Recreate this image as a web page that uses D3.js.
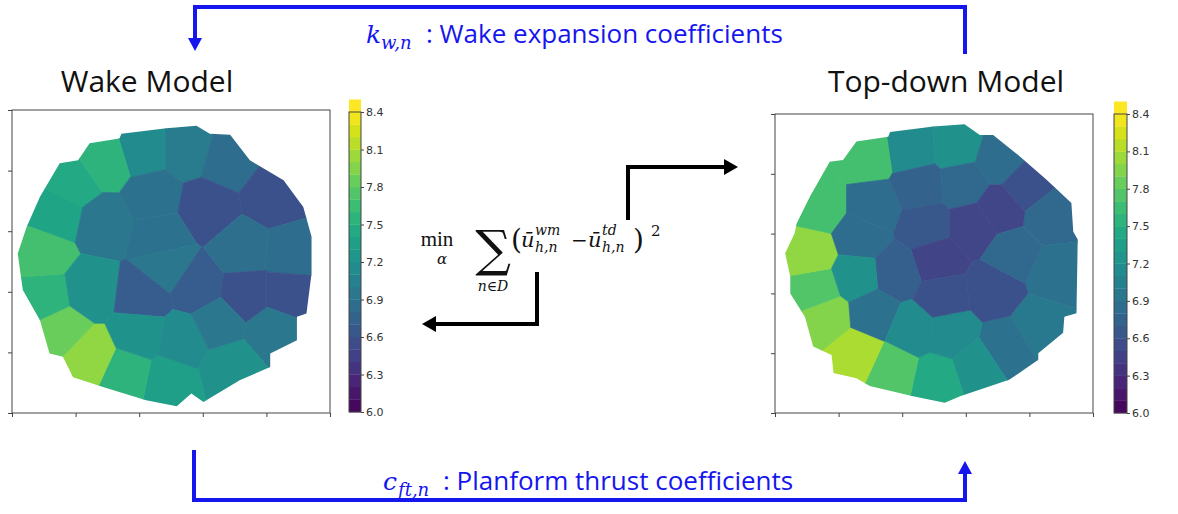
<!DOCTYPE html>
<html lang="en">
<head>
<meta charset="UTF-8" />
<title>Wake Model / Top-down Model</title>
<script src="https://cdn.jsdelivr.net/npm/d3@7"></script>
<style>
  body { margin: 0; background: #fff; }
  svg { display: block; }
  .title { font-family: "Open Sans", sans-serif; font-size: 30px; fill: #111; }
  .blue { font-family: "Open Sans", sans-serif; font-size: 26px; fill: #1515ee; }
  .serif { font-family: "DejaVu Serif", serif; fill: #111; }
</style>
</head>
<body>
<div id="chart"></div>
<script>
// cells: [x, y, hub-height velocity]
var wakeCells = [
  [2.06, 4.34, 7.15], [2.77, 4.34, 7.0], [3.37, 4.17, 6.85], [4.11, 3.57, 6.6],
  [4.37, 2.63, 6.85], [4.32, 1.97, 6.6], [4.11, 1.37, 6.95], [3.43, 0.76, 7.2],
  [2.46, 0.51, 7.35], [1.80, 0.65, 7.55], [1.22, 0.93, 8.0], [0.78, 1.37, 7.85],
  [0.54, 1.92, 7.55], [0.49, 2.63, 7.68], [0.72, 3.29, 7.4], [0.96, 3.79, 7.45],
  [1.46, 4.15, 7.55], [1.43, 3.13, 6.95], [2.22, 3.57, 6.9], [3.06, 3.40, 6.6],
  [2.32, 2.91, 6.9], [2.43, 2.41, 6.95], [1.22, 2.03, 7.2], [2.06, 1.92, 6.7],
  [2.90, 2.08, 6.7], [3.64, 2.69, 6.87], [3.69, 1.97, 6.6], [2.01, 1.31, 7.22],
  [2.69, 1.20, 7.15], [3.22, 1.48, 6.95]
];
var wakeOutline = [
  [1.72, 4.61], [2.43, 4.70], [2.90, 4.74], [3.11, 4.61], [3.43, 4.59], [3.74, 4.17],
  [4.27, 3.84], [4.58, 3.40], [4.71, 2.91], [4.71, 2.30], [4.63, 1.64], [4.48, 1.59],
  [4.48, 1.20], [4.06, 0.98], [4.06, 0.76], [3.58, 0.54], [3.01, 0.18], [2.82, 0.32],
  [2.59, 0.11], [2.11, 0.21], [1.43, 0.43], [0.96, 0.59], [0.80, 0.93], [0.59, 0.98],
  [0.44, 1.53], [0.17, 2.03], [0.09, 2.63], [0.23, 3.07], [0.44, 3.57], [0.75, 4.12],
  [1.04, 4.17], [1.22, 4.45], [1.69, 4.53]
];
var tdCells = [
  [2.15, 4.40, 7.15], [2.85, 4.45, 7.2], [3.53, 4.23, 6.85], [3.95, 3.79, 6.6],
  [4.32, 3.29, 6.8], [4.42, 2.34, 6.9], [4.16, 1.45, 6.97], [3.64, 1.11, 6.9],
  [3.17, 0.78, 7.2], [2.54, 0.56, 7.45], [1.86, 0.72, 7.75], [1.28, 1.00, 8.1],
  [0.81, 1.61, 7.95], [0.65, 2.06, 7.75], [0.55, 2.67, 8.0], [0.71, 3.45, 7.68],
  [1.44, 4.29, 7.68], [1.54, 3.45, 6.85], [1.34, 2.95, 6.85], [2.28, 3.79, 6.75],
  [2.96, 3.84, 6.8], [2.38, 3.12, 6.65], [3.12, 3.12, 6.5], [3.53, 3.40, 6.5],
  [2.54, 2.56, 6.48], [1.91, 2.34, 6.72], [1.28, 2.28, 7.2], [1.54, 1.67, 6.9],
  [2.17, 1.39, 7.15], [2.75, 1.34, 7.15], [2.64, 1.95, 6.6], [3.43, 2.06, 6.6],
  [3.74, 2.67, 6.8]
];
var tdOutline = [
  [1.81, 4.70], [2.49, 4.79], [2.98, 4.83], [3.22, 4.65], [3.43, 4.65], [3.85, 4.29],
  [4.27, 3.90], [4.66, 3.51], [4.69, 3.03], [4.76, 2.90], [4.74, 1.67], [4.55, 1.61],
  [4.53, 1.34], [4.14, 1.00], [4.14, 0.89], [3.69, 0.56], [3.53, 0.50], [2.91, 0.28],
  [2.67, 0.17], [2.17, 0.28], [1.49, 0.45], [1.28, 0.58], [0.92, 0.67], [0.89, 0.97],
  [0.60, 1.11], [0.47, 1.61], [0.24, 2.00], [0.24, 2.28], [0.16, 2.67], [0.31, 3.01],
  [0.34, 3.17], [0.55, 3.62], [0.86, 4.20], [1.07, 4.23], [1.28, 4.54], [1.78, 4.62]
];
var cbarTicks = [6.0, 6.3, 6.6, 6.9, 7.2, 7.5, 7.8, 8.1, 8.4];
var cbarLevels = d3.range(6.0, 8.4, 0.1);

var W = 1178, H = 514;
var svg = d3.select("#chart").append("svg").attr("width", W).attr("height", H);
var color = d3.scaleSequential(d3.interpolateViridis).domain([6.0, 8.4]);

function drawMap(id, cells, outline, box, cb) {
  var g = svg.append("g");
  var x = d3.scaleLinear().domain([0, 5]).range([box.x0, box.x1]);
  var y = d3.scaleLinear().domain([0, 5]).range([box.y1, box.y0]);

  svg.append("clipPath").attr("id", id + "-clip")
    .append("path")
    .attr("d", d3.line().x(d => x(d[0])).y(d => y(d[1])).curve(d3.curveLinearClosed)(outline));

  var vor = d3.Delaunay.from(cells, d => x(d[0]), d => y(d[1]))
    .voronoi([box.x0, box.y0, box.x1, box.y1]);

  g.append("g").attr("clip-path", "url(#" + id + "-clip)")
    .selectAll("path")
    .data(cells)
    .join("path")
    .attr("d", (d, i) => vor.renderCell(i))
    .attr("fill", d => color(d[2]))
    .attr("stroke", d => color(d[2]))
    .attr("stroke-width", 0.7);

  g.append("rect")
    .attr("x", box.x0).attr("y", box.y0)
    .attr("width", box.x1 - box.x0).attr("height", box.y1 - box.y0)
    .attr("fill", "none").attr("stroke", "#444").attr("stroke-width", 1);

  var ax = g.append("g").attr("transform", "translate(0," + box.y1 + ")")
    .call(d3.axisBottom(x).ticks(5).tickSize(4).tickFormat(""));
  var ay = g.append("g").attr("transform", "translate(" + box.x0 + ",0)")
    .call(d3.axisLeft(y).ticks(5).tickSize(4).tickFormat(""));
  [ax, ay].forEach(a => {
    a.select(".domain").remove();
    a.selectAll("line").attr("stroke", "#444");
  });

  // colour bar
  var c = d3.scaleLinear().domain([6.0, 8.4]).range([cb.y1, cb.y0]);
  var bar = g.append("g");
  bar.selectAll("rect")
    .data(cbarLevels)
    .join("rect")
    .attr("x", cb.x0)
    .attr("y", d => c(d + 0.1))
    .attr("width", cb.x1 - cb.x0)
    .attr("height", d => c(d) - c(d + 0.1) + 0.3)
    .attr("fill", d => color(d + 0.05));
  bar.append("rect")
    .attr("x", cb.x0).attr("y", cb.y0)
    .attr("width", cb.x1 - cb.x0).attr("height", cb.y1 - cb.y0)
    .attr("fill", "none").attr("stroke", "#444");
  var cax = bar.append("g").attr("transform", "translate(" + cb.x1 + ",0)")
    .call(d3.axisRight(c).tickValues(cbarTicks).tickSize(3).tickPadding(2).tickFormat(d3.format(".1f")));
  cax.select(".domain").remove();
  cax.selectAll("line").attr("stroke", "#444");
  cax.selectAll("text").attr("font-family", "DejaVu Sans").attr("font-size", 11).attr("fill", "#333");
}

drawMap("wm", wakeCells, wakeOutline,
  {x0: 12, x1: 330, y0: 110, y1: 413},
  {x0: 349, x1: 361, y0: 112, y1: 412});
drawMap("td", tdCells, tdOutline,
  {x0: 775, x1: 1093, y0: 114, y1: 413},
  {x0: 1114, x1: 1127, y0: 114, y1: 413});

// titles
svg.append("text").attr("class", "title").attr("x", 147).attr("y", 92)
  .attr("text-anchor", "middle").text("Wake Model");
svg.append("text").attr("class", "title").attr("x", 946).attr("y", 92)
  .attr("text-anchor", "middle").text("Top-down Model");

// blue feedback loops
var blue = "#1515ee";
svg.append("path")
  .attr("d", "M195,40 V7 H965 V54")
  .attr("fill", "none").attr("stroke", blue).attr("stroke-width", 4);
svg.append("path").attr("d", "M188,38 L202,38 L195,51 Z").attr("fill", blue);
svg.append("path")
  .attr("d", "M194,450 V500 H965 V472")
  .attr("fill", "none").attr("stroke", blue).attr("stroke-width", 4);
svg.append("path").attr("d", "M958,474 L972,474 L965,461 Z").attr("fill", blue);

function mathLabel(y, base, baseX, sub, subX) {
  var t = svg.append("text").attr("y", y)
    .attr("font-family", "DejaVu Serif").attr("font-style", "italic").attr("fill", blue);
  t.append("tspan").attr("x", baseX).attr("font-size", 25).text(base);
  t.append("tspan").attr("x", subX).attr("dy", 6).attr("font-size", 18).text(sub);
}
mathLabel(43, "k", 366, "w,n", 381);
svg.append("text").attr("class", "blue").attr("x", 426).attr("y", 43)
  .text(": Wake expansion coefficients");
mathLabel(490, "c", 383, "ft,n", 398);
svg.append("text").attr("class", "blue").attr("x", 443).attr("y", 490)
  .text(": Planform thrust coefficients");

// black arrows
svg.append("path").attr("d", "M628,220 V167 H726")
  .attr("fill", "none").attr("stroke", "#000").attr("stroke-width", 4);
svg.append("path").attr("d", "M724,159 L738,167 L724,175 Z").attr("fill", "#000");
svg.append("path").attr("d", "M537,272 V324 H434")
  .attr("fill", "none").attr("stroke", "#000").attr("stroke-width", 4);
svg.append("path").attr("d", "M436,316 L422,324 L436,332 Z").attr("fill", "#000");

// objective
var f = svg.append("g").attr("class", "serif");
function put(txt, x, y, size, italic, anchor, family) {
  f.append("text").attr("x", x).attr("y", y).attr("font-size", size)
    .attr("font-family", family || null)
    .attr("font-style", italic ? "italic" : "normal")
    .attr("text-anchor", anchor || "start").text(txt);
}
put("min", 437, 246, 21, false, "middle", "Liberation Serif");
put("α", 442, 264, 15, true, "middle");
put("∑", 493, 266, 50, false, "middle");
put("n∈D", 493, 291, 14, true, "middle");
put("(", 511, 249, 28, false);
put("ū", 521, 247, 21, true);
put("wm", 535, 235, 14, true);
put("h,n", 535, 252, 14, true);
put("−", 571, 247, 20, false);
put("ū", 588, 247, 21, true);
put("td", 602, 235, 14, true);
put("h,n", 602, 252, 14, true);
put(")", 633, 249, 28, false);
put("2", 651, 236, 15, false);
</script>
</body>
</html>
